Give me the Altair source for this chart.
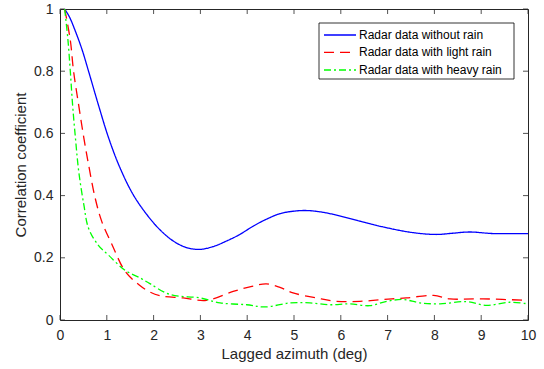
import altair as alt
import pandas as pd

series_names = ["Radar data without rain", "Radar data with light rain", "Radar data with heavy rain"]
series_colors = ["#0000FF", "#FF0000", "#00FF00"]
series_dash = [[1, 0], [10, 6], [7, 3, 2, 3]]

x_blue = [0.1, 0.2, 0.33, 0.47, 0.61, 0.82, 1.04, 1.28, 1.56, 1.85, 2.13, 2.42, 2.70, 2.99, 3.27, 3.56,
          3.84, 4.13, 4.41, 4.70, 5.0, 5.27, 5.55, 5.83, 6.40, 6.97, 7.54, 8.04, 8.39, 8.75, 9.25, 10]
y_blue = [1.0, 0.975, 0.928, 0.87, 0.80, 0.692, 0.585, 0.49, 0.404, 0.34, 0.291, 0.254, 0.233, 0.227, 0.236, 0.254,
          0.275, 0.302, 0.324, 0.342, 0.350, 0.352, 0.348, 0.340, 0.318, 0.297, 0.281, 0.275, 0.279, 0.283, 0.278, 0.278]

x_red = [0.1, 0.22, 0.29, 0.40, 0.51, 0.61, 0.75, 0.89, 1.11, 1.39, 1.68, 1.92, 2.17, 2.63, 3.13, 3.70,
         4.1, 4.41, 4.7, 4.98, 5.48, 5.91, 6.41, 6.91, 7.4, 7.98, 8.33, 9.04, 10]
y_red = [1.0, 0.90, 0.80, 0.69, 0.585, 0.50, 0.393, 0.318, 0.243, 0.157, 0.114, 0.09, 0.077, 0.071, 0.063, 0.092,
         0.108, 0.116, 0.105, 0.087, 0.071, 0.06, 0.06, 0.066, 0.071, 0.079, 0.068, 0.068, 0.063]

x_green = [0.1, 0.17, 0.22, 0.27, 0.33, 0.40, 0.51, 0.61, 0.82, 1.04, 1.39, 1.74, 1.92, 2.35, 2.99, 3.42,
           3.99, 4.38, 4.92, 5.34, 5.77, 6.19, 6.62, 6.98, 7.33, 7.69, 8.12, 8.68, 9.11, 9.6, 10]
y_green = [1.0, 0.90, 0.80, 0.69, 0.585, 0.478, 0.37, 0.295, 0.24, 0.208, 0.16, 0.133, 0.117, 0.082, 0.071, 0.055,
           0.049, 0.042, 0.055, 0.055, 0.049, 0.052, 0.046, 0.06, 0.066, 0.055, 0.052, 0.059, 0.047, 0.057, 0.052]

x_ticks = [0, 1, 2, 3, 4, 5, 6, 7, 8, 9, 10]
y_ticks = [0, 0.2, 0.4, 0.6, 0.8, 1]

rows = []
for name, xs, ys in zip(series_names, [x_blue, x_red, x_green], [y_blue, y_red, y_green]):
    for xv, yv in zip(xs, ys):
        rows.append({"series": name, "x": xv, "y": yv})
df = pd.DataFrame(rows)

W, H = 468, 311
AX = "#262626"
FONT = "Liberation Sans"

xscale = alt.Scale(domain=[0, 10], nice=False, zero=False)
yscale = alt.Scale(domain=[0, 1], nice=False, zero=False)

lines = alt.Chart(df).mark_line(strokeWidth=1.3, interpolate="catmull-rom").encode(
    x=alt.X("x:Q", scale=xscale,
            axis=alt.Axis(values=x_ticks, title="Lagged azimuth (deg)", ticks=False, domain=False,
                          grid=False, labelPadding=8, titlePadding=4, labelFlush=False,
                          labelFont=FONT, labelFontSize=14, labelColor=AX,
                          titleFont=FONT, titleFontSize=15, titleColor=AX, titleFontWeight="normal")),
    y=alt.Y("y:Q", scale=yscale,
            axis=alt.Axis(values=y_ticks, title="Correlation coefficient", ticks=False, domain=False,
                          grid=False, labelPadding=7, titlePadding=5, labelFlush=False,
                          labelFont=FONT, labelFontSize=14, labelColor=AX,
                          titleFont=FONT, titleFontSize=15, titleColor=AX, titleFontWeight="normal",
                          labelExpr="datum.value == 0 ? '0' : datum.value == 1 ? '1' : format(datum.value, '.1f')")),
    color=alt.Color("series:N", scale=alt.Scale(domain=series_names, range=series_colors), legend=None),
    strokeDash=alt.StrokeDash("series:N", scale=alt.Scale(domain=series_names, range=series_dash),
                              legend=None),
    order=alt.Order("x:Q"),
)

tdx = pd.DataFrame({"t": x_ticks})
tdy = pd.DataFrame({"t": y_ticks})

xb = alt.Chart(tdx).mark_rule(color=AX, strokeWidth=0.8).encode(
    x=alt.X("t:Q", scale=xscale), y=alt.value(H), y2=alt.value(H - 5))
xt = alt.Chart(tdx).mark_rule(color=AX, strokeWidth=0.8).encode(
    x=alt.X("t:Q", scale=xscale), y=alt.value(0), y2=alt.value(5))
yl = alt.Chart(tdy).mark_rule(color=AX, strokeWidth=0.8).encode(
    y=alt.Y("t:Q", scale=yscale), x=alt.value(0), x2=alt.value(5))
yr = alt.Chart(tdy).mark_rule(color=AX, strokeWidth=0.8).encode(
    y=alt.Y("t:Q", scale=yscale), x=alt.value(W), x2=alt.value(W - 5))

# custom legend box
leg_df = pd.DataFrame({"series": series_names})
box = alt.Chart(leg_df.head(1)).mark_rect(fill="#FFFFFF", stroke="#000000", strokeWidth=0.8).encode(
    x=alt.value(259), x2=alt.value(454), y=alt.value(14), y2=alt.value(70))
row_y = [26, 43.3, 61]
leg_layers = [box]
for name, col, dash, ry in zip(series_names, series_colors, series_dash, row_y):
    one = pd.DataFrame({"series": [name]})
    leg_layers.append(alt.Chart(one).mark_rule(color=col, strokeWidth=1.3, strokeDash=dash).encode(
        x=alt.value(264), x2=alt.value(296), y=alt.value(ry)))
    leg_layers.append(alt.Chart(one).mark_text(align="left", baseline="middle", font=FONT,
                                               fontSize=12, color="#000000").encode(
        x=alt.value(299), y=alt.value(ry), text="series:N"))

chart = alt.layer(xb, xt, yl, yr, lines, *leg_layers).properties(
    width=W, height=H,
    autosize=alt.AutoSizeParams(type="none"),
    padding={"left": 60, "top": 9, "right": 16, "bottom": 49},
    background="#FFFFFF",
).configure_view(
    stroke=AX, strokeWidth=1
)

chart.save("out.html", embed_options={"renderer": "svg", "actions": False})
